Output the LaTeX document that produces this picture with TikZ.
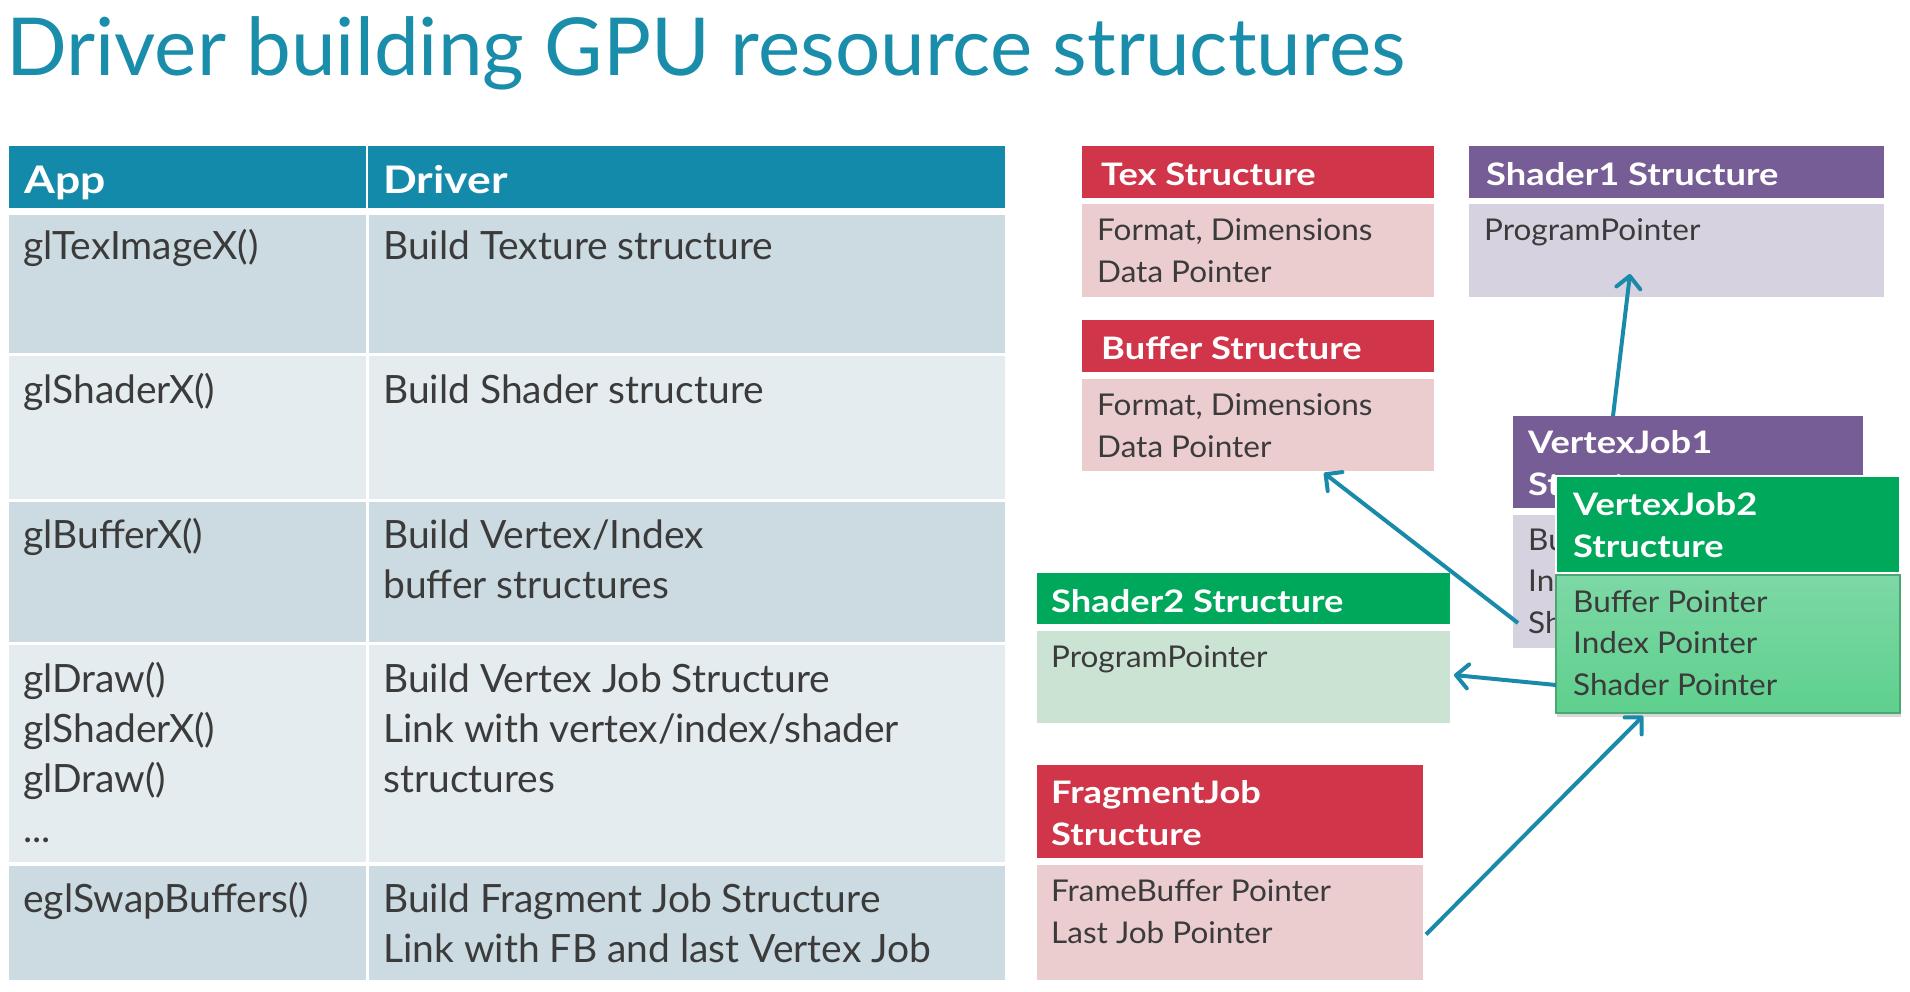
\documentclass[tikz,border=0pt]{standalone}
\usepackage{fontspec}
\setmainfont{Lato}
% wider cuts for the bold titles and the box texts
\newfontfamily\widefont{Lato}[FakeStretch=1.17]
\newfontfamily\boxfont{Lato}[FakeStretch=1.05]
\usetikzlibrary{positioning, arrows.meta, shadows}

\definecolor{titleblue}{HTML}{1A8DAB}
\definecolor{headblue}{HTML}{138AAA}
\definecolor{rowdark}{HTML}{CCDBE2}
\definecolor{rowlight}{HTML}{E5ECF0}
\definecolor{txtgray}{HTML}{3B3B3B}
\definecolor{redhead}{HTML}{D0354A}
\definecolor{redbody}{HTML}{EBCDD0}
\definecolor{purphead}{HTML}{775D96}
\definecolor{purpbody}{HTML}{D6D2DF}
\definecolor{greenhead}{HTML}{00A85B}
\definecolor{greenbody}{HTML}{CBE3D3}
\definecolor{greentop}{HTML}{7DD8A5}
\definecolor{greenbot}{HTML}{5ED08D}
\definecolor{linkblue}{HTML}{1A8AAA}

\tikzset{
  % Set arrowhead
  >={Straight Barb[length=12pt, width=24pt, round]},
  % Table cell and structure box
  cell/.style={anchor=north west, inner sep=0pt, outer sep=0pt},
  sbox/.style={cell},
  % Table text (anchored at the base of the last line)
  ctext/.style={anchor=base west, inner sep=0pt, align=left, text=txtgray,
    font=\fontsize{39}{50}\selectfont},
  chead/.style={ctext, text=white, font=\widefont\fontsize{38}{50}\selectfont\bfseries},
  % Structure text
  stitle/.style={anchor=base west, inner sep=0pt, align=left, text=white,
    font=\widefont\fontsize{31}{41.5}\selectfont\bfseries},
  sline/.style={stitle, text=txtgray, font=\boxfont\fontsize{30}{41.5}\selectfont},
  % Links
  lnk/.style={->, draw=linkblue, line width=4pt},
}

\begin{document}
\begin{tikzpicture}[x=1pt, y=-1pt]
  \useasboundingbox (0,0) rectangle (1910,991);

  \node[anchor=base west, inner sep=0pt, text=titleblue,
    font=\fontsize{80}{90}\selectfont] (title) at (6,75)
    {Driver building GPU resource structures};

  % table
  \node[cell, fill=headblue, minimum width=357pt, minimum height=62pt] (appH) at (9,146) {};
  \node[cell, fill=headblue, minimum width=637pt, minimum height=62pt] (drvH) at (368,146) {};
  \node[cell, fill=rowdark, minimum width=357pt, minimum height=138pt] (app1) at (9,215) {};
  \node[cell, fill=rowdark, minimum width=636pt, minimum height=138pt] (drv1) at (369,215) {};
  \node[cell, fill=rowlight, minimum width=357pt, minimum height=143pt] (app2) at (9,356) {};
  \node[cell, fill=rowlight, minimum width=636pt, minimum height=143pt] (drv2) at (369,356) {};
  \node[cell, fill=rowdark, minimum width=357pt, minimum height=140pt] (app3) at (9,502) {};
  \node[cell, fill=rowdark, minimum width=636pt, minimum height=140pt] (drv3) at (369,502) {};
  \node[cell, fill=rowlight, minimum width=357pt, minimum height=217pt] (app4) at (9,645) {};
  \node[cell, fill=rowlight, minimum width=636pt, minimum height=217pt] (drv4) at (369,645) {};
  \node[cell, fill=rowdark, minimum width=357pt, minimum height=114pt] (app5) at (9,866) {};
  \node[cell, fill=rowdark, minimum width=636pt, minimum height=114pt] (drv5) at (369,866) {};

  \node[chead] (appHT) at (24,193) {App};
  \node[chead] (drvHT) at (383,193) {Driver};
  \node[ctext] (app1T) at (23,259) {glTexImageX()};
  \node[ctext] (drv1T) at (383,259) {Build Texture structure};
  \node[ctext] (app2T) at (23,403) {glShaderX()};
  \node[ctext] (drv2T) at (383,403) {Build Shader structure};
  \node[ctext] (app3T) at (23,548) {glBufferX()};
  \node[ctext] (drv3T) at (383,598) {Build Vertex/Index\\buffer structures};
  \node[ctext] (app4T) at (23,842) {glDraw()\\glShaderX()\\glDraw()\\...};
  \node[ctext] (drv4T) at (383,792)
    {Build Vertex Job Structure\\Link with vertex/index/shader\\structures};
  \node[ctext] (app5T) at (23,912) {eglSwapBuffers()};
  \node[ctext] (drv5T) at (383,962)
    {Build Fragment Job Structure\\Link with FB and last Vertex Job};

  % structures
  \node[sbox, fill=redhead, minimum width=352pt, minimum height=52pt] (texH) at (1082,146) {};
  \node[sbox, fill=redbody, minimum width=352pt, minimum height=93pt] (texB) at (1082,204) {};
  \node[stitle] (texT) at (1101,185) {Tex Structure};
  \node[sline] (texL) at (1097,282) {Format, Dimensions\\Data Pointer};

  \node[sbox, fill=redhead, minimum width=352pt, minimum height=52pt] (bufH) at (1082,320) {};
  \node[sbox, fill=redbody, minimum width=352pt, minimum height=92pt] (bufB) at (1082,379) {};
  \node[stitle] (bufT) at (1101,359) {Buffer Structure};
  \node[sline] (bufL) at (1097,457) {Format, Dimensions\\Data Pointer};

  \node[sbox, fill=purphead, minimum width=415pt, minimum height=52pt] (sh1H) at (1469,146) {};
  \node[sbox, fill=purpbody, minimum width=415pt, minimum height=93pt] (sh1B) at (1469,204) {};
  \node[stitle] (sh1T) at (1486,185) {Shader1 Structure};
  \node[sline] (sh1L) at (1484,240) {ProgramPointer};

  \node[sbox, fill=greenhead, minimum width=413pt, minimum height=51pt] (sh2H) at (1037,573) {};
  \node[sbox, fill=greenbody, minimum width=413pt, minimum height=92pt] (sh2B) at (1037,631) {};
  \node[stitle] (sh2T) at (1051,612) {Shader2 Structure};
  \node[sline] (sh2L) at (1051,667) {ProgramPointer};

  \node[sbox, fill=redhead, minimum width=386pt, minimum height=93pt] (fragH) at (1037,765) {};
  \node[sbox, fill=redbody, minimum width=386pt, minimum height=115pt] (fragB) at (1037,865) {};
  \node[stitle] (fragT) at (1051,845) {FragmentJob\\Structure};
  \node[sline] (fragL) at (1051,943) {FrameBuffer Pointer\\Last Job Pointer};

  \node[sbox, fill=purphead, minimum width=350pt, minimum height=92pt] (vj1H) at (1513,416) {};
  \node[sbox, fill=purpbody, minimum width=350pt, minimum height=133pt] (vj1B) at (1513,515) {};
  \node[stitle] (vj1T) at (1528,495) {VertexJob1\\Structure};
  \node[sline] (vj1L) at (1528,633) {Buffer Pointer\\Index Pointer\\Shader Pointer};

  \node[sbox, fill=greenhead, draw=white, line width=1.5pt, minimum width=344pt,
    minimum height=97pt] (vj2H) at (1556,476) {};
  \node[sbox, top color=greentop, bottom color=greenbot, draw=greenbot!80!black,
    line width=1.5pt, drop shadow={shadow xshift=1pt, shadow yshift=-4pt, opacity=0.3},
    minimum width=344pt, minimum height=138pt] (vj2B) at (1556,575) {};
  \node[stitle] (vj2T) at (1573,557) {VertexJob2\\Structure};
  \node[sline] (vj2L) at (1573,695) {Buffer Pointer\\Index Pointer\\Shader Pointer};

  % links
  \draw[lnk] ([xshift=100pt]vj1H.north west) -- ([xshift=161pt, yshift=23pt]sh1B.south west);
  \draw[lnk] ([xshift=5pt, yshift=25pt]vj1B.south west) -- ([xshift=242pt, yshift=-2pt]bufB.south west);
  \draw[lnk] ([yshift=28pt]vj2B.south west) -- ([xshift=4pt, yshift=2pt]sh2B.east);
  \draw[lnk] ([xshift=3pt, yshift=-12pt]fragB.east) -- ([xshift=87pt, yshift=-3pt]vj2B.south west);
\end{tikzpicture}
\end{document}
